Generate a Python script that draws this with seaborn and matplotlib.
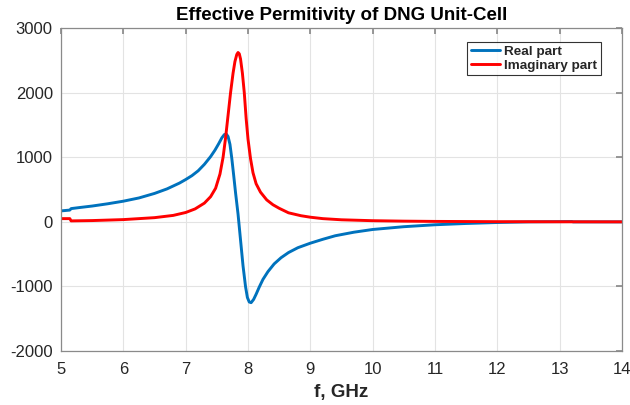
import matplotlib
matplotlib.use("Agg")
import matplotlib.pyplot as plt
import seaborn as sns
import pandas as pd

# Real part of effective permittivity
real_f = [5.00, 5.14, 5.16, 5.3, 5.5, 5.75, 6.0, 6.25, 6.5, 6.7, 6.9, 7.0, 7.1, 7.2, 7.3,
          7.4, 7.47, 7.53, 7.58, 7.62, 7.65, 7.68, 7.71, 7.74, 7.77, 7.80, 7.84, 7.88,
          7.92, 7.96, 7.99, 8.02, 8.05, 8.09, 8.13, 8.18, 8.24, 8.32, 8.42, 8.53, 8.65,
          8.8, 9.0, 9.2, 9.4, 9.7, 10.0, 10.5, 11.0, 11.5, 12.0, 12.5, 13.2, 13.22, 14.0]
real_v = [170, 182, 205, 222, 245, 280, 320, 370, 440, 510, 600, 655, 715, 790, 890,
          1010, 1110, 1210, 1300, 1350, 1360, 1320, 1200, 980, 720, 450, 120, -280,
          -680, -1000, -1170, -1240, -1250, -1200, -1120, -1010, -890, -770, -650, -555, -475,
          -400, -330, -270, -215, -160, -118, -75, -45, -25, -10, 0, 5, 0, 0]

# Imaginary part of effective permittivity
imag_f = [5.00, 5.14, 5.16, 5.5, 6.0, 6.5, 6.8, 7.0, 7.15, 7.3, 7.4, 7.48, 7.55, 7.60,
          7.64, 7.68, 7.72, 7.76, 7.79, 7.82, 7.84, 7.86, 7.88, 7.91, 7.94, 7.97, 8.00,
          8.04, 8.08, 8.13, 8.2, 8.3, 8.4, 8.5, 8.65, 8.85, 9.0, 9.2, 9.5, 10.0, 10.5,
          11.0, 12.0, 13.0, 14.0]
imag_v = [50, 50, 15, 20, 35, 65, 100, 145, 200, 290, 390, 520, 740, 1000,
          1300, 1650, 2000, 2300, 2480, 2590, 2620, 2600, 2520, 2300, 2000, 1600, 1280,
          980, 760, 590, 460, 340, 265, 210, 140, 95, 72, 50, 32, 18, 11,
          7, 3, 1, 0]

series_names = ["Real part", "Imaginary part"]
x_ticks = [5, 6, 7, 8, 9, 10, 11, 12, 13, 14]
y_ticks = [-2000, -1000, 0, 1000, 2000, 3000]

df = pd.concat([
    pd.DataFrame({"f": real_f, "v": real_v, "part": series_names[0]}),
    pd.DataFrame({"f": imag_f, "v": imag_v, "part": series_names[1]}),
], ignore_index=True)

sns.set_theme(style="whitegrid")
plt.rcParams["font.family"] = ["Liberation Sans", "DejaVu Sans"]
plt.rcParams["axes.unicode_minus"] = False

fig = plt.figure(figsize=(6.3, 4.05), dpi=100)
ax = fig.add_axes([0.097, 0.133, 0.890, 0.798])

sns.lineplot(data=df, x="f", y="v", hue="part", estimator=None, sort=False,
             palette={"Real part": "#0072BD", "Imaginary part": "#FF0000"},
             linewidth=2.1, ax=ax)

ax.set_xlim(5, 14)
ax.set_ylim(-2000, 3000)
ax.set_xticks(x_ticks)
ax.set_yticks(y_ticks)
ax.grid(True, color="#e3e3e3", linewidth=0.8)
ax.set_facecolor("white")
for s in ax.spines.values():
    s.set_visible(True)
    s.set_color("#8a8a8a")
    s.set_linewidth(0.9)
ax.tick_params(axis="both", direction="in", length=4, color="#8a8a8a",
               labelsize=12, labelcolor="#262626", top=True, right=True)
ax.tick_params(axis="x", pad=8)
ax.tick_params(axis="y", pad=6)
ax.set_xlabel("f, GHz", fontsize=13.5, fontweight="bold", color="#262626", labelpad=5)
ax.set_ylabel("")
ax.set_title("Effective Permitivity of DNG Unit-Cell", fontsize=13.5,
             fontweight="bold", color="black", pad=6)

leg = ax.legend(loc="upper right", bbox_to_anchor=(0.9626, 0.9567), frameon=True,
                fancybox=False, prop={"weight": "bold", "size": 9.7}, borderaxespad=0,
                handlelength=2.2, handletextpad=0.3, borderpad=0.25, labelspacing=0.1)
leg.get_frame().set_edgecolor("black")
leg.get_frame().set_linewidth(0.8)
leg.set_title(None)

fig.savefig("out.png", dpi=100)
